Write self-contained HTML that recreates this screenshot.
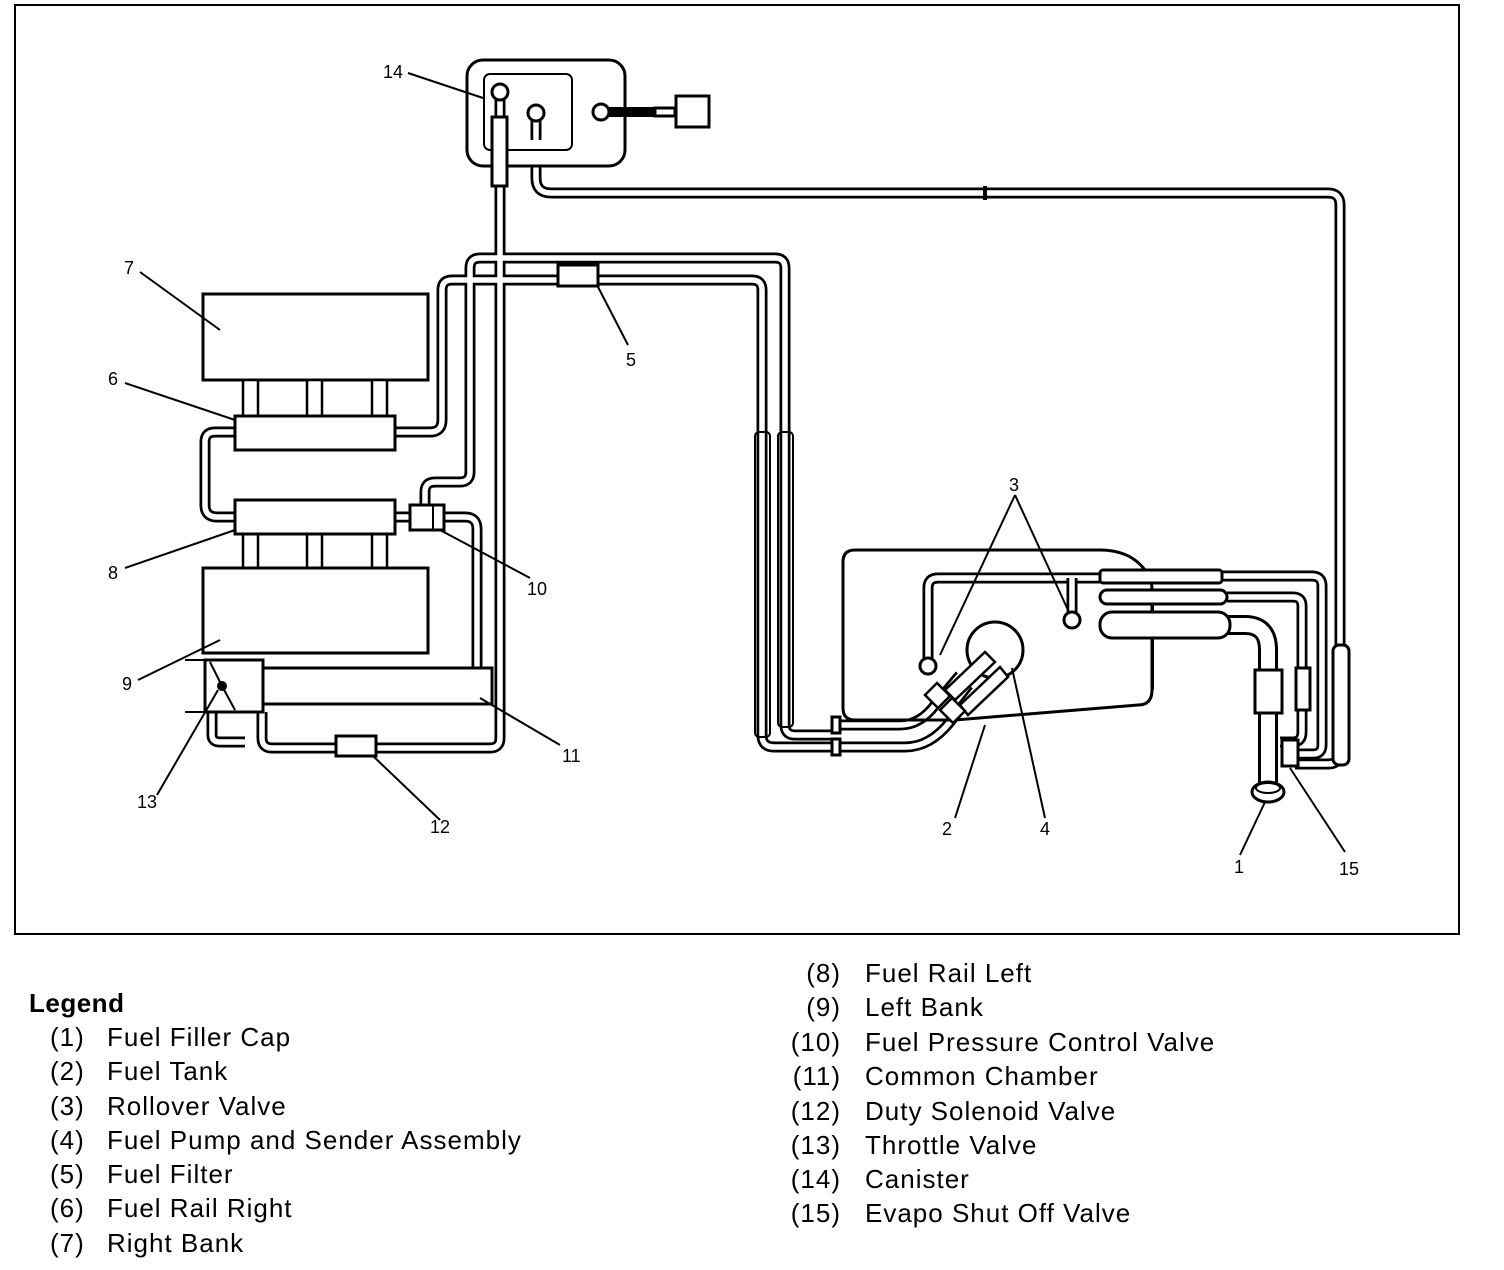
<!DOCTYPE html>
<html><head><meta charset="utf-8"><style>
html,body{margin:0;padding:0;background:#fff;}
svg{display:block;}
.t1{fill:none;stroke:#000;stroke-width:11;stroke-linejoin:round;}
.t2{fill:none;stroke:#fff;stroke-width:5.5;stroke-linejoin:round;}
.b{fill:#fff;stroke:#000;stroke-width:3;}
.l{stroke:#000;stroke-width:2;fill:none;}
.n{font-family:"Liberation Sans",Arial,sans-serif;font-size:18px;}
.g{font-family:"Liberation Sans",Arial,sans-serif;font-size:26px;letter-spacing:1px;}
</style></head><body>
<svg width="1504" height="1270" viewBox="0 0 1504 1270">
<defs>
<path id="pA" d="M425,507 V492 Q425,482 435,482 H460 Q470,482 470,472 V268 Q470,258 480,258 H775 Q785,258 785,268 V725 Q785,735 795,735 H835"/>
<path id="pC" d="M395,432 H430 Q442,432 442,420 V290 Q442,280 452,280 H752 Q762,280 762,290 V735 Q762,747 774,747 H835"/>
<path id="pB" d="M445,517 H465 Q477,517 477,529 V672"/>
<path id="pD" d="M500,186 V738 Q500,748 490,748 H272 Q262,748 262,738 V712"/>
<path id="pE" d="M212,712 V735 Q212,742 220,742 H245"/>
<path id="pF" d="M235,432 H215 Q205,432 205,442 V505 Q205,517 217,517 H235"/>
<path id="pR" d="M395,517 H410"/>
<path id="pG" d="M536,140 V178 Q536,193 551,193 H1328 Q1340,193 1340,205 V752 Q1340,764 1328,764 H1295"/>
<path id="pH" d="M1222,576 H1312 Q1322,576 1322,586 V745 Q1322,754 1313,754 H1295"/>
<path id="pI" d="M1227,597 H1293 Q1302,597 1302,606 V732 Q1302,742 1293,742 H1280"/>
<path id="pJ" d="M928,660 V588 Q928,578 938,578 H1100"/>
<path id="pK" d="M1072,578 V614"/>
<path id="pL" d="M835,725 H900 Q920,725 935,705 L960,675"/>
<path id="pM" d="M835,747 H905 Q930,747 950,722 L975,690"/>
</defs>
<rect x="15" y="5" width="1444" height="929" fill="none" stroke="#000" stroke-width="2"/>

<g class="t1"><use href="#pA"/><use href="#pC"/><use href="#pB"/><use href="#pD"/><use href="#pE"/><use href="#pF"/><use href="#pR"/><use href="#pG"/><use href="#pH"/><use href="#pI"/><use href="#pJ"/><use href="#pK"/><use href="#pL"/><use href="#pM"/></g>
<g class="t2"><use href="#pA"/><use href="#pC"/><use href="#pB"/><use href="#pD"/><use href="#pE"/><use href="#pF"/><use href="#pR"/><use href="#pG"/><use href="#pH"/><use href="#pI"/><use href="#pJ"/><use href="#pK"/><use href="#pL"/><use href="#pM"/></g>

<!-- filler neck -->
<path d="M1228,625 H1245 Q1268,625 1268,650 V790" fill="none" stroke="#000" stroke-width="20"/>
<path d="M1228,625 H1245 Q1268,625 1268,650 V790" fill="none" stroke="#fff" stroke-width="14"/>
<ellipse cx="1268" cy="792" rx="16" ry="10" class="b"/>
<ellipse cx="1268" cy="788" rx="12" ry="5" class="l"/>

<!-- canister -->
<rect x="467" y="60" width="158" height="106" rx="16" class="b"/>
<rect x="484" y="74" width="88" height="76" rx="6" fill="none" stroke="#000" stroke-width="2"/>
<path d="M500,100 V120" class="t1"/><path d="M500,100 V120" class="t2"/>
<path d="M536,118 V140" class="t1"/><path d="M536,118 V140" class="t2"/>
<circle cx="500" cy="92" r="8" class="b"/>
<circle cx="536" cy="113" r="8" class="b"/>
<circle cx="601" cy="112" r="8" class="b"/>
<rect x="609" y="107" width="50" height="10" fill="#000"/>
<rect x="655" y="108" width="20" height="8" class="b" stroke-width="2"/>
<rect x="676" y="96" width="33" height="31" class="b"/>
<rect x="492" y="117" width="15" height="69" class="b" stroke-width="2.5"/>
<rect x="983" y="186" width="4" height="14" fill="#000"/>
<rect x="1333" y="645" width="16" height="120" rx="6" class="b" stroke-width="2.5"/>

<!-- engine -->
<rect x="203" y="294" width="225" height="86" class="b"/>
<g fill="#fff" stroke="#000" stroke-width="2.5">
<rect x="243" y="380" width="15" height="36"/><rect x="307" y="380" width="15" height="36"/><rect x="372" y="380" width="15" height="36"/>
<rect x="243" y="534" width="15" height="34"/><rect x="307" y="534" width="15" height="34"/><rect x="372" y="534" width="15" height="34"/>
</g>
<rect x="235" y="416" width="160" height="34" class="b"/>
<rect x="235" y="500" width="160" height="34" class="b"/>
<rect x="203" y="568" width="225" height="85" class="b"/>
<rect x="410" y="505" width="34" height="25" class="b"/>
<line x1="433" y1="505" x2="433" y2="530" class="l"/>
<rect x="263" y="668" width="229" height="36" class="b"/>
<rect x="205" y="660" width="58" height="52" class="b"/>
<line x1="185" y1="660" x2="205" y2="660" class="l"/>
<line x1="185" y1="712" x2="205" y2="712" class="l"/>
<path d="M210,662 L222,686 L235,710" class="l"/>
<circle cx="222" cy="686" r="5" fill="#000"/>
<rect x="336" y="736" width="40" height="20" class="b"/>
<rect x="558" y="265" width="40" height="21" class="b"/>
<rect x="755" y="432" width="15" height="305" rx="4" fill="none" stroke="#000" stroke-width="2"/>
<rect x="778" y="432" width="15" height="295" rx="4" fill="none" stroke="#000" stroke-width="2"/>

<!-- tank -->
<path d="M855,550 H1100 Q1130,550 1145,570 Q1152,578 1152,590 V690 Q1152,705 1138,705 L955,720 H855 Q843,720 843,708 V562 Q843,550 855,550 Z" fill="none" stroke="#000" stroke-width="3"/>
<path d="M928,660 V588 Q928,578 938,578 H1100" class="t1"/><path d="M928,660 V588 Q928,578 938,578 H1100" class="t2"/>
<path d="M1072,578 V614" class="t1"/><path d="M1072,578 V614" class="t2"/>
<circle cx="928" cy="666" r="8" class="b"/>
<circle cx="1072" cy="620" r="8" class="b"/>
<circle cx="995" cy="650" r="28" class="b"/>
<g fill="#fff" stroke="#000" stroke-width="2.5">
<path d="M945,690 L985,652 L995,662 L955,700 Z"/>
<path d="M960,705 L1000,667 L1008,677 L968,715 Z"/>
<path d="M925,695 L937,683 L950,696 L938,708 Z"/>
<path d="M940,710 L952,698 L965,711 L953,723 Z"/>
</g>
<rect x="832" y="717" width="8" height="16" class="b" stroke-width="2"/>
<rect x="832" y="739" width="8" height="16" class="b" stroke-width="2"/>
<rect x="1100" y="570" width="122" height="13" rx="3" class="b" stroke-width="2.5"/>
<rect x="1100" y="590" width="127" height="14" rx="7" class="b" stroke-width="2.5"/>
<rect x="1100" y="612" width="130" height="26" rx="12" class="b" stroke-width="2.5"/>
<line x1="1153" y1="604" x2="1153" y2="612" class="l"/>
<line x1="1153" y1="638" x2="1153" y2="690" class="l"/>
<rect x="1255" y="670" width="27" height="43" class="b" stroke-width="2.5"/>
<rect x="1296" y="668" width="14" height="42" class="b" stroke-width="2.5"/>
<rect x="1282" y="740" width="16" height="26" class="b" stroke-width="2"/>

<!-- leaders -->
<g class="l">
<line x1="408" y1="73" x2="483" y2="98"/>
<line x1="140" y1="272" x2="220" y2="330"/>
<line x1="125" y1="383" x2="235" y2="420"/>
<line x1="125" y1="568" x2="235" y2="530"/>
<line x1="138" y1="680" x2="220" y2="640"/>
<line x1="157" y1="795" x2="218" y2="690"/>
<line x1="440" y1="820" x2="372" y2="755"/>
<line x1="560" y1="745" x2="480" y2="698"/>
<line x1="530" y1="578" x2="440" y2="530"/>
<line x1="628" y1="345" x2="597" y2="285"/>
<line x1="1015" y1="495" x2="940" y2="655"/>
<line x1="1015" y1="495" x2="1068" y2="610"/>
<line x1="955" y1="818" x2="985" y2="725"/>
<line x1="1045" y1="818" x2="1012" y2="668"/>
<line x1="1240" y1="855" x2="1265" y2="802"/>
<line x1="1345" y1="852" x2="1290" y2="768"/>
</g>
<g class="n">
<text x="383" y="78">14</text><text x="124" y="274">7</text><text x="108" y="385">6</text>
<text x="108" y="579">8</text><text x="122" y="690">9</text><text x="137" y="808">13</text>
<text x="430" y="833">12</text><text x="562" y="762">11</text><text x="527" y="595">10</text>
<text x="626" y="366">5</text><text x="1009" y="491">3</text><text x="942" y="835">2</text>
<text x="1040" y="835">4</text><text x="1234" y="873">1</text><text x="1339" y="875">15</text>
</g>

<!-- legend -->
<text x="29" y="1012" class="g" style="font-weight:bold;letter-spacing:0.5px">Legend</text>
<g class="g">
<text x="50" y="1046">(1)</text><text x="107" y="1046">Fuel Filler Cap</text>
<text x="50" y="1080">(2)</text><text x="107" y="1080">Fuel Tank</text>
<text x="50" y="1115">(3)</text><text x="107" y="1115">Rollover Valve</text>
<text x="50" y="1149">(4)</text><text x="107" y="1149">Fuel Pump and Sender Assembly</text>
<text x="50" y="1183">(5)</text><text x="107" y="1183">Fuel Filter</text>
<text x="50" y="1217">(6)</text><text x="107" y="1217">Fuel Rail Right</text>
<text x="50" y="1252">(7)</text><text x="107" y="1252">Right Bank</text>
</g>
<g class="g" text-anchor="end">
<text x="841" y="982">(8)</text><text x="841" y="1016">(9)</text><text x="841" y="1051">(10)</text>
<text x="841" y="1085">(11)</text><text x="841" y="1120">(12)</text><text x="841" y="1154">(13)</text>
<text x="841" y="1188">(14)</text><text x="841" y="1222">(15)</text>
</g>
<g class="g">
<text x="865" y="982">Fuel Rail Left</text><text x="865" y="1016">Left Bank</text>
<text x="865" y="1051">Fuel Pressure Control Valve</text><text x="865" y="1085">Common Chamber</text>
<text x="865" y="1120">Duty Solenoid Valve</text><text x="865" y="1154">Throttle Valve</text>
<text x="865" y="1188">Canister</text><text x="865" y="1222">Evapo Shut Off Valve</text>
</g>
</svg>
</body></html>
